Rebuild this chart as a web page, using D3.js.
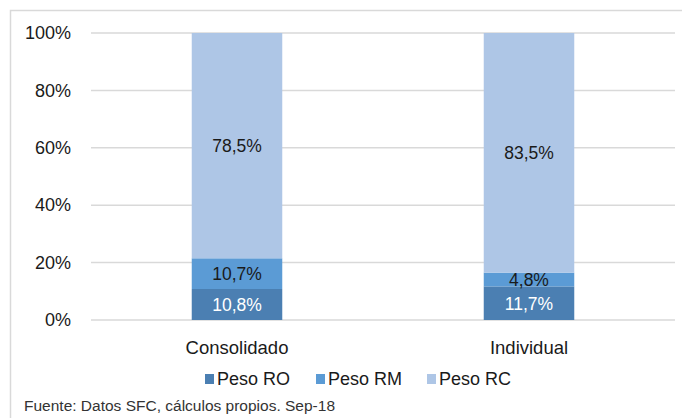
<!DOCTYPE html>
<html>
<head>
<meta charset="utf-8">
<script src="https://cdn.jsdelivr.net/npm/d3@7"></script>
<style>
  html, body { margin: 0; padding: 0; background: #fff; }
  svg { display: block; }
  text { font-family: "Liberation Sans", Arial, sans-serif; }
</style>
</head>
<body>
<svg id="chart" width="682" height="418"></svg>
<script>
const categories = ["Consolidado", "Individual"];
const seriesNames = ["Peso RO", "Peso RM", "Peso RC"];
const pesoRO = [10.8, 11.7];
const pesoRM = [10.7, 4.8];
const pesoRC = [78.5, 83.5];
const yTicks = [0, 20, 40, 60, 80, 100];
const colors = ["#4b7fb2", "#5b9bd5", "#aec6e6"];
const labelColors = ["#ffffff", "#1a1a1a", "#1a1a1a"];
const sourceText = "Fuente: Datos SFC, cálculos propios. Sep-18";

const svg = d3.select("#chart");
const FONT = '"Liberation Sans", Arial, sans-serif';

// outer frame
svg.append("rect")
  .attr("x", 10.5).attr("y", 10.5)
  .attr("width", 720).attr("height", 440)
  .attr("fill", "none").attr("stroke", "#d9d9d9").attr("stroke-width", 1.5);

const plot = { left: 91, right: 675, top: 33, bottom: 320 };

const x = d3.scaleBand()
  .domain(categories)
  .range([plot.left, plot.right])
  .paddingInner(0.69)
  .paddingOuter(0.345);

const y = d3.scaleLinear().domain([0, 100]).range([plot.bottom, plot.top]);

// gridlines
svg.append("g")
  .selectAll("line")
  .data(yTicks)
  .join("line")
  .attr("x1", plot.left).attr("x2", plot.right)
  .attr("y1", d => y(d)).attr("y2", d => y(d))
  .attr("stroke", "#d9d9d9").attr("stroke-width", 1.5);

// y axis labels
const yAxis = d3.axisLeft(y)
  .tickValues(yTicks)
  .tickFormat(d => d + "%")
  .tickSize(0)
  .tickPadding(20);
const yg = svg.append("g").attr("transform", `translate(${plot.left},0)`).call(yAxis);
yg.select(".domain").remove();
yg.selectAll("text")
  .attr("font-size", 18)
  .attr("fill", "#1a1a1a")
  .style("font-family", FONT);

// stacked data
const rows = categories.map((c, i) => ({
  cat: c, "Peso RO": pesoRO[i], "Peso RM": pesoRM[i], "Peso RC": pesoRC[i]
}));
const stack = d3.stack().keys(seriesNames)(rows);

const layers = svg.append("g")
  .selectAll("g")
  .data(stack)
  .join("g")
  .attr("fill", (d, i) => colors[i]);

layers.selectAll("rect")
  .data(d => d)
  .join("rect")
  .attr("x", d => x(d.data.cat))
  .attr("width", x.bandwidth())
  .attr("y", d => y(d[1]))
  .attr("height", d => y(d[0]) - y(d[1]));

// data labels
const fmt = v => d3.format(".1f")(v).replace(".", ",") + "%";
stack.forEach((layer, li) => {
  svg.append("g")
    .selectAll("text")
    .data(layer)
    .join("text")
    .attr("x", d => x(d.data.cat) + x.bandwidth() / 2)
    .attr("y", d => (y(d[0]) + y(d[1])) / 2)
    .attr("dy", "0.36em")
    .attr("text-anchor", "middle")
    .attr("font-size", 17.5)
    .attr("fill", labelColors[li])
    .text(d => fmt(d[1] - d[0]));
});

// x axis labels
const xAxis = d3.axisBottom(x).tickSize(0).tickPadding(21);
const xg = svg.append("g").attr("transform", `translate(0,${plot.bottom})`).call(xAxis);
xg.select(".domain").remove();
xg.selectAll("text")
  .attr("font-size", 18.5)
  .attr("fill", "#1a1a1a")
  .style("font-family", FONT);

// legend
const legendX = [205, 316, 427];
const legend = svg.append("g")
  .selectAll("g")
  .data(seriesNames)
  .join("g")
  .attr("transform", (d, i) => `translate(${legendX[i]},379)`);
legend.append("rect")
  .attr("x", 0).attr("y", -5)
  .attr("width", 9).attr("height", 10)
  .attr("fill", (d, i) => colors[i]);
legend.append("text")
  .attr("x", 12).attr("y", 0)
  .attr("dy", "0.36em")
  .attr("font-size", 18)
  .attr("fill", "#1a1a1a")
  .text(d => d);

// source
svg.append("text")
  .attr("x", 24).attr("y", 405)
  .attr("dy", "0.36em")
  .attr("font-size", 15.5)
  .attr("fill", "#333")
  .text(sourceText);
</script>
</body>
</html>
